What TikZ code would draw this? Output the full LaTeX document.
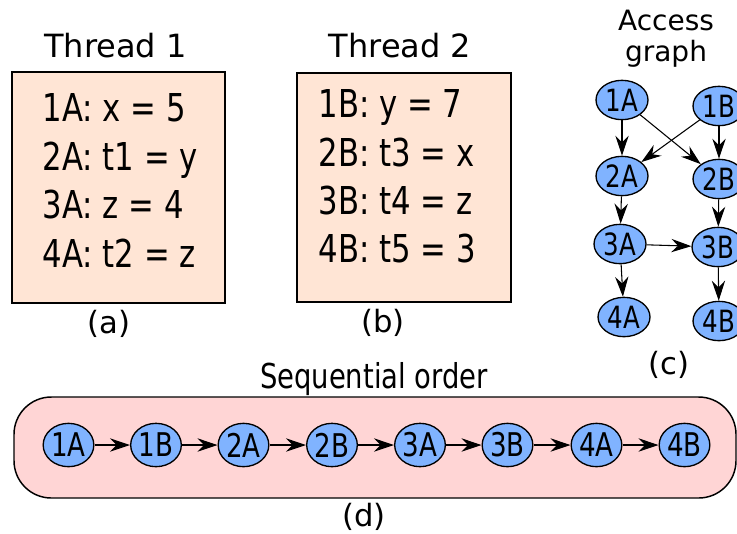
\documentclass[tikz,border=0pt]{standalone}
\usepackage{fontspec}
\setmainfont{DejaVu Sans}
\newfontfamily\narrowfont[FakeStretch=0.8]{DejaVu Sans}
\usetikzlibrary{arrows.meta,shapes.geometric}
\definecolor{threadfill}{RGB}{255,229,213}
\definecolor{orderfill}{RGB}{255,213,213}
\definecolor{opfill}{RGB}{128,179,255}
\tikzstyle{every path}=[line width=0.8pt]
\tikzstyle{threadbox}=[draw, fill=threadfill, line width=1.3pt]
\tikzstyle{codeline}=[anchor=base west, inner sep=0pt, font=\narrowfont\fontsize{28.8}{32}\selectfont]
\tikzstyle{title}=[anchor=base, inner sep=0pt, font=\fontsize{24}{28}\selectfont]
\tikzstyle{caption}=[font=\fontsize{23}{28}\selectfont]
\tikzstyle{graphop}=[ellipse, draw, fill=opfill, inner sep=0pt, line width=1pt, minimum width=39pt, minimum height=29.5pt, font=\narrowfont\fontsize{23}{24}\selectfont]
\tikzstyle{seqop}=[graphop, minimum width=38pt, minimum height=32.5pt, font=\narrowfont\fontsize{24.5}{25}\selectfont]
\tikzstyle{dep}=[-{Stealth[length=15pt,width=10pt,inset=5pt]}]

\begin{document}
\begin{tikzpicture}[x=0.75pt, y=-0.75pt]
    \useasboundingbox (0,0) rectangle (737,533);

    % (a) thread 1
    \node[title] (t1title) at (115.5,57) {Thread 1};
    \draw[threadbox] (12,72) rectangle (225,303);
    \node[codeline] (a1) at (42,121) {1A: x = 5};
    \node[codeline] (a2) at (42,170) {2A: t1 = y};
    \node[codeline] (a3) at (42,218) {3A: z = 4};
    \node[codeline] (a4) at (42,267) {4A: t2 = z};
    \node[caption] (capa) at (109,324) {(a)};

    % (b) thread 2
    \node[title] (t2title) at (400,57) {Thread 2};
    \draw[threadbox] (297,73) rectangle (511,302);
    \node[codeline] (b1) at (318,117) {1B: y = 7};
    \node[codeline] (b2) at (318,166) {2B: t3 = x};
    \node[codeline] (b3) at (318,214) {3B: t4 = z};
    \node[codeline] (b4) at (318,262) {4B: t5 = 3};
    \node[caption] (capb) at (383,323) {(b)};

    % (c) access graph
    \node[align=center, font=\fontsize{21}{23.25}\selectfont] (gtitle) at (666,39) {Access\\graph};
    \node[graphop] (g1a) at (622,100) {1A};
    \node[graphop] (g1b) at (719,106) {1B};
    \node[graphop] (g2a) at (622,176) {2A};
    \node[graphop] (g2b) at (719,179) {2B};
    \node[graphop] (g3a) at (620,244) {3A};
    \node[graphop] (g3b) at (718,247) {3B};
    \node[graphop] (g4a) at (624,317) {4A};
    \node[graphop] (g4b) at (719,321) {4B};
    \draw[dep] (g1a) -- (g2a);
    \draw[dep] (g1b) -- (g2b);
    \draw[dep] (g1a) -- (g2b);
    \draw[dep] (g1b) -- (g2a);
    \draw[dep] (g2a) -- (g3a);
    \draw[dep] (g2b) -- (g3b);
    \draw[dep] (g3a) -- (g3b);
    \draw[dep] (g3a) -- (g4a);
    \draw[dep] (g3b) -- (g4b);
    \node[caption] (capc) at (669,365) {(c)};

    % (d) sequential order
    \node[title, font=\narrowfont\fontsize{25.7}{28}\selectfont] (stitle) at (374,388) {Sequential order};
    \draw[fill=orderfill, line width=1.1pt, rounded corners=28pt] (14,397) rectangle (736,498);
    \node[seqop] (s1) at (68.5,445) {1A};
    \node[seqop] (s2) at (156,445) {1B};
    \node[seqop] (s3) at (243.5,445) {2A};
    \node[seqop] (s4) at (332,445) {2B};
    \node[seqop] (s5) at (420,445) {3A};
    \node[seqop] (s6) at (507.5,445) {3B};
    \node[seqop] (s7) at (596.5,445) {4A};
    \node[seqop] (s8) at (684.5,445) {4B};
    \draw[dep] (s1) -- (s2);
    \draw[dep] (s2) -- (s3);
    \draw[dep] (s3) -- (s4);
    \draw[dep] (s4) -- (s5);
    \draw[dep] (s5) -- (s6);
    \draw[dep] (s6) -- (s7);
    \draw[dep] (s7) -- (s8);
    \node[caption] (capd) at (364,517) {(d)};
\end{tikzpicture}
\end{document}
